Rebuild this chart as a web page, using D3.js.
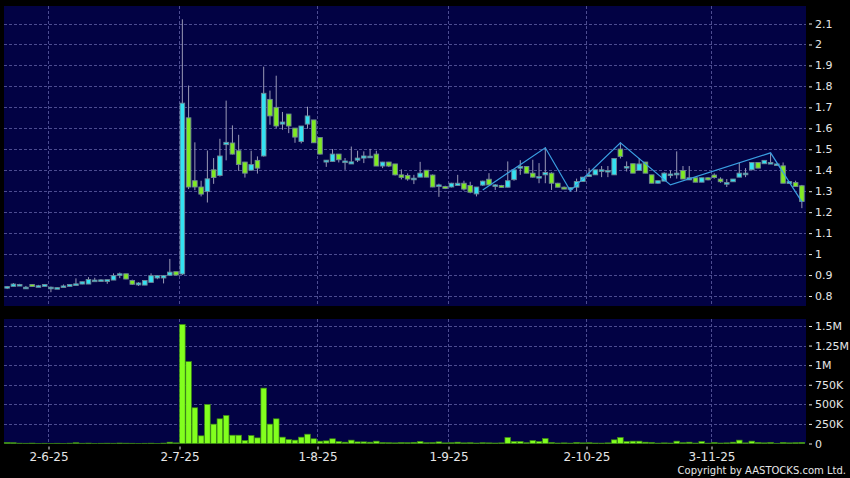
<!DOCTYPE html>
<html>
<head>
<meta charset="utf-8">
<script src="https://cdn.jsdelivr.net/npm/d3@7"></script>
<style>
  html, body { margin: 0; padding: 0; background: #000; }
  svg { display: block; font-family: "DejaVu Sans", Verdana, sans-serif; }
</style>
</head>
<body>
<script>
// daily candles, 22-5-25 .. 21-11-25 (index = trading day)
const open  = [0.840,0.846,0.850,0.842,0.855,0.849,0.846,0.835,0.836,0.848,0.846,0.858,0.857,0.857,0.876,0.877,0.869,0.876,0.905,0.906,
               0.874,0.853,0.852,0.865,0.886,0.886,0.899,0.916,0.905,1.650,1.350,1.320,1.298,1.402,1.375,1.522,1.530,1.493,1.439,1.400,
               1.447,1.468,1.738,1.700,1.620,1.668,1.601,1.537,1.620,1.640,1.556,1.439,1.442,1.477,1.440,1.430,1.448,1.458,1.464,1.477,
               1.420,1.439,1.430,1.378,1.375,1.362,1.367,1.400,1.377,1.325,1.322,1.320,1.327,1.338,1.327,1.287,1.329,1.357,1.330,1.327,
               1.319,1.355,1.410,1.418,1.386,1.370,1.378,1.386,1.338,1.319,1.310,1.319,1.346,1.370,1.378,1.402,1.399,1.378,1.501,1.418,
               1.431,1.399,1.439,1.378,1.338,1.348,1.382,1.378,1.399,1.354,1.364,1.343,1.364,1.377,1.358,1.341,1.345,1.367,1.386,1.402,
               1.437,1.431,1.431,1.430,1.421,1.337,1.341,1.326]
const high  = [0.848,0.862,0.858,0.848,0.857,0.853,0.856,0.845,0.842,0.855,0.856,0.884,0.868,0.890,0.887,0.880,0.878,0.908,0.912,0.906,
               0.878,0.866,0.874,0.908,0.900,0.900,0.977,0.916,2.120,1.804,1.533,1.350,1.494,1.458,1.550,1.732,1.614,1.569,1.440,1.493,
               1.466,1.894,1.780,1.851,1.678,1.668,1.601,1.611,1.703,1.640,1.556,1.448,1.501,1.477,1.458,1.513,1.493,1.490,1.502,1.493,
               1.440,1.440,1.430,1.404,1.385,1.378,1.440,1.400,1.380,1.336,1.326,1.340,1.378,1.350,1.345,1.320,1.350,1.386,1.334,1.330,
               1.442,1.402,1.448,1.418,1.450,1.434,1.509,1.390,1.340,1.322,1.317,1.360,1.367,1.410,1.402,1.420,1.420,1.456,1.533,1.442,
               1.431,1.458,1.439,1.378,1.350,1.390,1.399,1.490,1.420,1.420,1.364,1.364,1.366,1.385,1.366,1.358,1.358,1.437,1.410,1.437,
               1.437,1.447,1.482,1.432,1.437,1.346,1.350,1.330]
const low   = [0.833,0.846,0.848,0.834,0.844,0.845,0.846,0.818,0.834,0.840,0.846,0.855,0.856,0.857,0.874,0.875,0.858,0.876,0.885,0.880,
               0.853,0.848,0.852,0.865,0.880,0.860,0.899,0.899,0.900,1.310,1.305,1.275,1.246,1.335,1.370,1.447,1.475,1.397,1.365,1.400,
               1.384,1.465,1.617,1.600,1.593,1.577,1.531,1.528,1.598,1.530,1.475,1.416,1.440,1.437,1.402,1.430,1.439,1.434,1.460,1.420,
               1.410,1.415,1.375,1.356,1.350,1.334,1.367,1.367,1.319,1.273,1.310,1.318,1.327,1.303,1.290,1.275,1.325,1.330,1.306,1.318,
               1.318,1.350,1.378,1.386,1.365,1.338,1.338,1.306,1.319,1.310,1.298,1.298,1.346,1.370,1.378,1.367,1.367,1.378,1.456,1.394,
               1.386,1.399,1.386,1.338,1.336,1.348,1.362,1.360,1.358,1.354,1.343,1.343,1.352,1.360,1.340,1.320,1.345,1.367,1.367,1.402,
               1.410,1.431,1.431,1.428,1.338,1.335,1.322,1.219]
const close = [0.845,0.857,0.855,0.842,0.845,0.849,0.855,0.842,0.840,0.848,0.855,0.858,0.868,0.879,0.876,0.877,0.878,0.897,0.906,0.881,
               0.856,0.862,0.874,0.897,0.897,0.897,0.914,0.900,1.720,1.320,1.320,1.286,1.359,1.365,1.468,1.533,1.477,1.427,1.386,1.427,
               1.410,1.767,1.659,1.611,1.630,1.611,1.558,1.611,1.659,1.531,1.477,1.448,1.477,1.450,1.444,1.440,1.458,1.468,1.467,1.420,
               1.439,1.420,1.378,1.366,1.358,1.362,1.386,1.367,1.320,1.330,1.313,1.338,1.338,1.310,1.295,1.320,1.348,1.330,1.330,1.318,
               1.350,1.402,1.418,1.386,1.367,1.370,1.389,1.338,1.319,1.310,1.317,1.346,1.367,1.378,1.402,1.402,1.399,1.456,1.466,1.418,
               1.386,1.430,1.386,1.338,1.350,1.386,1.382,1.386,1.358,1.364,1.343,1.364,1.354,1.365,1.345,1.341,1.358,1.386,1.386,1.437,
               1.410,1.447,1.437,1.430,1.338,1.346,1.322,1.251]
// volume in thousands of shares
const volume = [12,10,4,3,5,2,3,2,3,2,4,10,3,5,2,3,4,3,6,4,
                3,2,3,4,2,5,17,8,1520,1045,456,98,499,247,315,358,106,106,38,102,
                72,707,247,315,81,51,43,81,119,60,30,34,60,26,17,43,21,21,17,30,
                12,10,8,12,10,15,26,10,12,21,8,10,17,8,10,6,10,8,6,8,
                77,26,26,10,38,26,64,13,6,8,5,13,8,10,6,5,8,47,77,26,
                30,30,17,13,5,8,6,30,10,17,6,26,5,13,6,8,17,43,8,30,
                13,8,13,3,13,8,10,13]

// zigzag overlay (turning points)
const zzIndex = [76, 86, 90, 98, 106, 122, 127]
const zzValue = [1.306, 1.507, 1.302, 1.531, 1.330, 1.483, 1.249]

const dateTickIndex = [7, 28, 50, 71, 93, 113]
const dateTickLabel = ["2-6-25", "2-7-25", "1-8-25", "1-9-25", "2-10-25", "3-11-25"]
const priceTicks = [0.8, 0.9, 1, 1.1, 1.2, 1.3, 1.4, 1.5, 1.6, 1.7, 1.8, 1.9, 2, 2.1]
const volTicks = [0, 250, 500, 750, 1000, 1250, 1500]
const volTickLabel = ["0", "250K", "500K", "750K", "1M", "1.25M", "1.5M"]

const width = 850, height = 478
const main = {left: 4, right: 806, top: 6, bottom: 306}
const vol = {left: 4, right: 806, top: 319, bottom: 443.5}
const bg = "#020244", gridColor = "#4c4c90", textColor = "#e6e6e6"
const upFill = "#33e2f2", downFill = "#80ea22", candleStroke = "#6f8796", wickColor = "#9a9ab6"

const x = d3.scaleBand().domain(d3.range(open.length)).range([4, 805])
const y = d3.scaleLinear().domain([0.8, 2.1]).range([296, 23.5])
const yv = d3.scaleLinear().domain([0, 1500]).range([vol.bottom, 326])

const svg = d3.select("body").append("svg")
  .attr("width", width).attr("height", height)

svg.append("rect").attr("width", width).attr("height", height).attr("fill", "#000")

// panels
for (const p of [main, vol]) {
  svg.append("rect")
    .attr("x", p.left).attr("y", p.top)
    .attr("width", p.right - p.left).attr("height", p.bottom - p.top)
    .attr("fill", bg)
}

// horizontal grids
svg.append("g").selectAll("line").data(priceTicks).join("line")
  .attr("x1", main.left).attr("x2", main.right)
  .attr("y1", d => Math.round(y(d)) + 0.5).attr("y2", d => Math.round(y(d)) + 0.5)
  .attr("stroke", gridColor).attr("stroke-dasharray", "3,2")

svg.append("g").selectAll("line").data(volTicks.slice(1)).join("line")
  .attr("x1", vol.left).attr("x2", vol.right)
  .attr("y1", d => Math.round(yv(d)) + 0.5).attr("y2", d => Math.round(yv(d)) + 0.5)
  .attr("stroke", gridColor).attr("stroke-dasharray", "3,2")

// vertical grids
for (const p of [main, vol]) {
  svg.append("g").selectAll("line").data(dateTickIndex).join("line")
    .attr("x1", d => Math.round(x(d)) + 0.5).attr("x2", d => Math.round(x(d)) + 0.5)
    .attr("y1", p.top).attr("y2", p.bottom)
    .attr("stroke", gridColor).attr("stroke-dasharray", "3,2")
}

// candles
const bw = 4.6
const candles = svg.append("g").selectAll("g").data(d3.range(open.length)).join("g")
candles.append("line")
  .attr("x1", i => x(i) + x.bandwidth() / 2).attr("x2", i => x(i) + x.bandwidth() / 2)
  .attr("y1", i => y(high[i])).attr("y2", i => y(low[i]))
  .attr("stroke", wickColor).attr("stroke-width", 1)
candles.append("rect")
  .attr("x", i => x(i) + (x.bandwidth() - bw) / 2)
  .attr("y", i => y(Math.max(open[i], close[i])))
  .attr("width", bw)
  .attr("height", i => Math.max(1.6, Math.abs(y(open[i]) - y(close[i]))))
  .attr("fill", i => close[i] >= open[i] ? upFill : downFill)
  .attr("stroke", candleStroke).attr("stroke-width", 0.9)

// zigzag
svg.append("path")
  .datum(zzIndex.map((d, k) => [x(d) + x.bandwidth() / 2, y(zzValue[k])]))
  .attr("d", d3.line())
  .attr("fill", "none").attr("stroke", "#3a9ee0").attr("stroke-width", 1.2)

// volume bars
svg.append("g").selectAll("rect").data(d3.range(volume.length)).join("rect")
  .attr("x", i => x(i) + 0.3)
  .attr("y", i => yv(volume[i]))
  .attr("width", x.bandwidth() - 0.6)
  .attr("height", i => yv(0) - yv(volume[i]))
  .attr("fill", "#82ff1e").attr("stroke", "#3c8a14").attr("stroke-width", 0.7)

// right axes
const priceAxis = svg.append("g")
  .attr("transform", `translate(${main.right + 3},0)`)
  .call(d3.axisRight(y).tickValues(priceTicks).tickSize(3).tickPadding(3).tickFormat(d => String(d)))
const volAxis = svg.append("g")
  .attr("transform", `translate(${vol.right + 3},0)`)
  .call(d3.axisRight(yv).tickValues(volTicks).tickSize(3).tickPadding(3).tickFormat((d, k) => volTickLabel[k]))
for (const a of [priceAxis, volAxis]) {
  a.select(".domain").remove()
  a.selectAll(".tick line").attr("stroke", textColor)
  a.selectAll(".tick text").attr("fill", textColor).attr("font-size", 11).attr("font-family", "DejaVu Sans")
}

// date axis
const dateAxis = svg.append("g")
  .attr("transform", `translate(0,${vol.bottom + 3})`)
  .call(d3.axisBottom(d3.scaleLinear().range([0, width]).domain([0, width]))
    .tickValues(dateTickIndex.map(i => Math.round(x(i)) + 0.5)).tickSize(3).tickPadding(3)
    .tickFormat((d, k) => dateTickLabel[k]))
dateAxis.select(".domain").remove()
dateAxis.selectAll(".tick line").attr("stroke", textColor)
dateAxis.selectAll(".tick text").attr("fill", textColor).attr("font-size", 12).attr("font-family", "DejaVu Sans")

svg.append("text")
  .attr("x", 846).attr("y", 474)
  .attr("text-anchor", "end")
  .attr("fill", textColor).attr("font-size", 10)
  .text("Copyright by AASTOCKS.com Ltd.")
</script>
</body>
</html>
